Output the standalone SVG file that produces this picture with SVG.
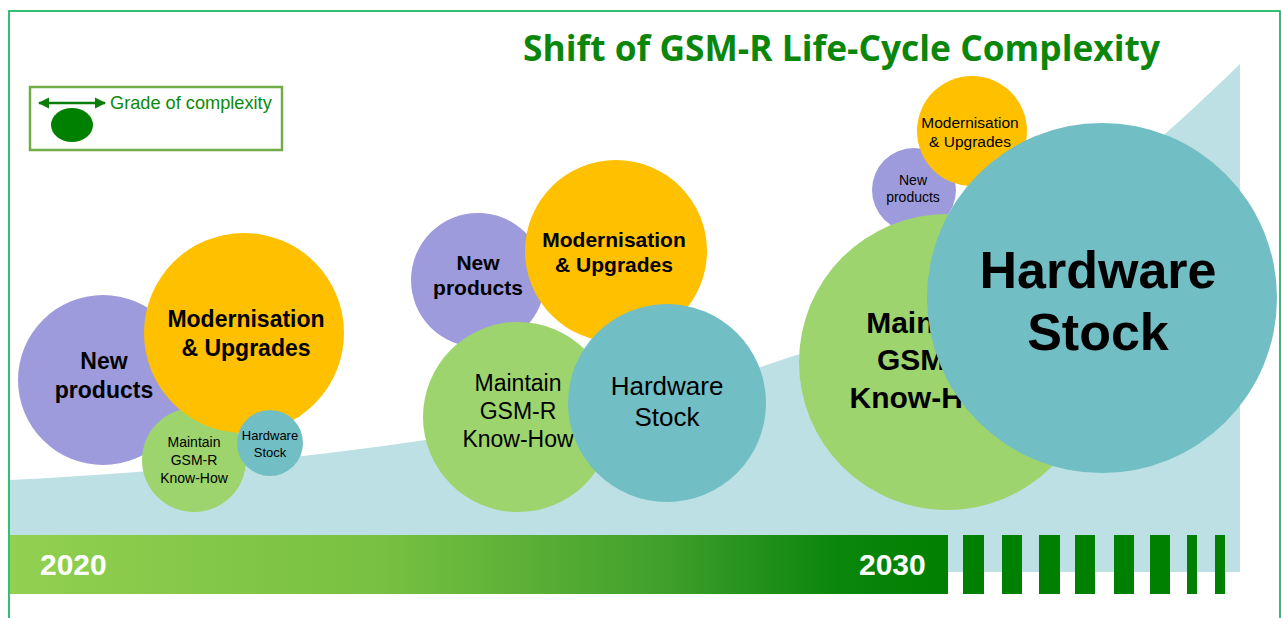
<svg xmlns="http://www.w3.org/2000/svg" width="1281" height="618" viewBox="0 0 1281 618">
  <style>
    .lbl { font-family: "Liberation Sans", Arial, sans-serif; fill: #000; text-anchor: middle; }
    .b { font-weight: bold; }
    .purple { fill: #9e9bdc; }
    .orange { fill: #ffc000; }
    .green { fill: #9dd46d; }
    .teal { fill: #71bec4; }
    .tick { fill: #008000; }
    .year { font-family: "Liberation Sans", Arial, sans-serif; font-weight: bold; font-size: 30px; fill: #fff; }
  </style>
  <defs>
    <linearGradient id="timeline" x1="10" y1="0" x2="948" y2="0" gradientUnits="userSpaceOnUse">
      <stop offset="0" stop-color="#92d050"/>
      <stop offset="0.4" stop-color="#77c041"/>
      <stop offset="0.7" stop-color="#3f9f2b"/>
      <stop offset="0.88" stop-color="#0b860b"/>
      <stop offset="1" stop-color="#008000"/>
    </linearGradient>
    <marker id="arrowHead" viewBox="0 0 10 10" refX="9" refY="5" markerWidth="4.5" markerHeight="4.5" orient="auto-start-reverse">
      <path d="M0,0 L10,5 L0,10 z" fill="#0a7d0a"/>
    </marker>
  </defs>

  <rect width="1281" height="618" fill="#fff"/>

  <!-- frame -->
  <rect x="9" y="11" width="1271" height="640" fill="none" stroke="#00b050" stroke-width="1.6"/>

  <!-- rising complexity area -->
  <path d="M10,480 C300,465 600,425 790,357 C960,310 1100,200 1240,64 L1240,572 L10,572 Z" fill="#bce0e3"/>

  <!-- timeline -->
  <g id="timeline-bar">
    <rect x="10" y="535" width="938" height="59" fill="url(#timeline)"/>
    <rect class="tick" x="963" y="535" width="21" height="59"/>
    <rect class="tick" x="1002" y="535" width="20" height="59"/>
    <rect class="tick" x="1039" y="535" width="21" height="59"/>
    <rect class="tick" x="1075" y="535" width="20" height="59"/>
    <rect class="tick" x="1114" y="535" width="20" height="59"/>
    <rect class="tick" x="1150" y="535" width="20" height="59"/>
    <rect class="tick" x="1187" y="535" width="10" height="59"/>
    <rect class="tick" x="1215" y="535" width="10" height="59"/>
    <text class="year" x="40" y="575">2020</text>
    <text class="year" x="859" y="575">2030</text>
  </g>

  <!-- legend -->
  <g id="legend">
    <rect x="30" y="87" width="252" height="63" fill="#fff" stroke="#70ad47" stroke-width="2.5"/>
    <line x1="39" y1="103" x2="105" y2="103" stroke="#0a7d0a" stroke-width="2.5" marker-start="url(#arrowHead)" marker-end="url(#arrowHead)"/>
    <ellipse cx="72" cy="125" rx="21" ry="17" fill="#008000"/>
    <text x="110" y="109" font-family="Liberation Sans, Arial, sans-serif" font-size="18.2" fill="#0a8a0a">Grade of complexity</text>
  </g>

  <!-- 2020 cluster -->
  <g id="stage-2020">
    <g id="n2020-new">
      <circle class="purple" cx="103" cy="380" r="85"/>
      <text class="lbl b" font-size="23" x="104" y="369">New</text>
      <text class="lbl b" font-size="23" x="104" y="398">products</text>
    </g>
    <g id="n2020-maintain">
      <circle class="green" cx="194" cy="460" r="52"/>
      <text class="lbl" font-size="14" x="194" y="447">Maintain</text>
      <text class="lbl" font-size="14" x="194" y="465">GSM-R</text>
      <text class="lbl" font-size="14" x="194" y="483">Know-How</text>
    </g>
    <g id="n2020-modern">
      <circle class="orange" cx="244" cy="333" r="100"/>
      <text class="lbl b" font-size="23" x="246" y="327">Modernisation</text>
      <text class="lbl b" font-size="23" x="246" y="356">&amp; Upgrades</text>
    </g>
    <g id="n2020-hardware">
      <circle class="teal" cx="270" cy="443" r="33"/>
      <text class="lbl" font-size="13" x="270" y="440">Hardware</text>
      <text class="lbl" font-size="13" x="270" y="457">Stock</text>
    </g>
  </g>

  <!-- intermediate cluster -->
  <g id="stage-mid">
    <g id="nmid-new">
      <circle class="purple" cx="478" cy="280" r="67"/>
      <text class="lbl b" font-size="21" x="478" y="270">New</text>
      <text class="lbl b" font-size="21" x="478" y="295">products</text>
    </g>
    <g id="nmid-modern">
      <circle class="orange" cx="616" cy="251" r="91"/>
      <text class="lbl b" font-size="21" x="614" y="247">Modernisation</text>
      <text class="lbl b" font-size="21" x="614" y="272">&amp; Upgrades</text>
    </g>
    <g id="nmid-maintain">
      <circle class="green" cx="518" cy="417" r="95"/>
      <text class="lbl" font-size="23" x="518" y="391">Maintain</text>
      <text class="lbl" font-size="23" x="518" y="419">GSM-R</text>
      <text class="lbl" font-size="23" x="518" y="447">Know-How</text>
    </g>
    <g id="nmid-hardware">
      <circle class="teal" cx="667" cy="403" r="99"/>
      <text class="lbl" font-size="26" x="667" y="395">Hardware</text>
      <text class="lbl" font-size="26" x="667" y="426">Stock</text>
    </g>
  </g>

  <!-- 2030 cluster -->
  <g id="stage-2030">
    <g id="n2030-new">
      <circle class="purple" cx="914" cy="190" r="42"/>
      <text class="lbl" font-size="14" x="913" y="185">New</text>
      <text class="lbl" font-size="14" x="913" y="202">products</text>
    </g>
    <g id="n2030-modern">
      <circle class="orange" cx="972" cy="131" r="55"/>
      <text class="lbl" font-size="15.5" x="970" y="128">Modernisation</text>
      <text class="lbl" font-size="15.5" x="970" y="147">&amp; Upgrades</text>
    </g>
    <g id="n2030-maintain">
      <circle class="green" cx="947" cy="362" r="148"/>
      <text class="lbl b" font-size="30" x="927" y="333">Maintain</text>
      <text class="lbl b" font-size="30" x="927" y="370">GSM-R</text>
      <text class="lbl b" font-size="30" x="927" y="408">Know-How</text>
    </g>
    <g id="n2030-hardware">
      <circle class="teal" cx="1102" cy="298" r="175"/>
      <text class="lbl b" font-size="52" x="1098" y="288">Hardware</text>
      <text class="lbl b" font-size="52" x="1098" y="350">Stock</text>
    </g>
  </g>

  <!-- heading -->
  <text x="523" y="61" font-family="Open Sans, Liberation Sans, sans-serif" font-weight="bold" font-size="35" fill="#0a860a" textLength="637" lengthAdjust="spacingAndGlyphs">Shift of GSM-R Life-Cycle Complexity</text>

  <g id="connectors"/>
</svg>
